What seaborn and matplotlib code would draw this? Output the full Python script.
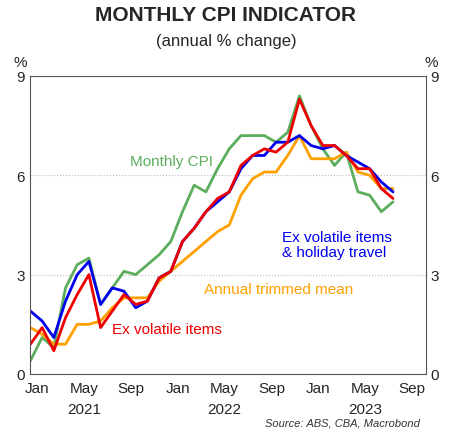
import numpy as np
import matplotlib.pyplot as plt
import seaborn as sns

# monthly, Jan 2021 - Aug 2023
months = np.arange(32)
monthly_cpi = [0.4, 1.1, 0.8, 2.6, 3.3, 3.5, 2.1, 2.6, 3.1, 3.0, 3.3, 3.6, 4.0, 4.9, 5.7, 5.5,
               6.2, 6.8, 7.2, 7.2, 7.2, 7.0, 7.3, 8.4, 7.5, 6.8, 6.3, 6.7, 5.5, 5.4, 4.9, 5.2]
ex_vol_holiday = [1.9, 1.6, 1.1, 2.2, 3.0, 3.4, 2.1, 2.6, 2.5, 2.0, 2.2, 2.9, 3.1, 4.0, 4.4, 4.9,
                  5.2, 5.5, 6.2, 6.6, 6.6, 7.0, 7.0, 7.2, 6.9, 6.8, 6.9, 6.6, 6.4, 6.2, 5.8, 5.5]
ex_volatile = [0.9, 1.4, 0.7, 1.7, 2.4, 3.0, 1.4, 1.9, 2.4, 2.1, 2.2, 2.9, 3.1, 4.0, 4.4, 4.9,
               5.3, 5.5, 6.3, 6.6, 6.8, 6.7, 7.0, 8.3, 7.5, 6.9, 6.9, 6.6, 6.2, 6.2, 5.6, 5.3]
trimmed_mean = [1.4, 1.2, 0.9, 0.9, 1.5, 1.5, 1.6, 2.0, 2.3, 2.3, 2.3, 2.8, 3.1, 3.4, 3.7, 4.0,
                4.3, 4.5, 5.4, 5.9, 6.1, 6.1, 6.6, 7.2, 6.5, 6.5, 6.5, 6.7, 6.1, 6.0, 5.6, 5.6]
month_labels = ["Jan", "May", "Sep"] * 3
year_labels = ["2021", "2022", "2023"]

sns.set_style("white")
plt.rcParams["font.family"] = ["Liberation Sans", "DejaVu Sans"]

fig = plt.figure(figsize=(4.52, 4.35), dpi=100)
ax = fig.add_axes([0.066, 0.138, 0.876, 0.685])

sns.lineplot(x=months, y=monthly_cpi, color="#5cad5c", lw=2, ax=ax)
sns.lineplot(x=months, y=trimmed_mean, color="#ffa000", lw=2, ax=ax)
sns.lineplot(x=months, y=ex_vol_holiday, color="#0000ee", lw=2, ax=ax)
sns.lineplot(x=months, y=ex_volatile, color="#ee0000", lw=2, ax=ax)

ax.set_xlim(-0.05, 33.8)
ax.set_ylim(0, 9)
ax.set_yticks([0, 3, 6, 9])
ax.yaxis.grid(True, ls=":", color="#bbbbbb", lw=0.8)
ax.tick_params(axis="y", labelsize=11, length=0, labelright=True, right=True)
ax.set_xticks(np.arange(3.5, 33, 4))
ax.set_xticklabels([])
ax.tick_params(axis="x", length=4, direction="in", color="#555555")
for i, lab in enumerate(month_labels):
    ax.text(0.6 + 4 * i, -0.2, lab, ha="center", va="top", fontsize=11)
for i, lab in enumerate(year_labels):
    ax.text(4.6 + 12 * i, -0.85, lab, ha="center", va="top", fontsize=11)
for s in ax.spines.values():
    s.set_color("#555555")
ax.set_xlabel("")
ax.set_ylabel("")

ax.text(8.5, 6.3, "Monthly CPI", color="#5cad5c", fontsize=11)
ax.text(21.5, 3.55, "Ex volatile items\n& holiday travel", color="#0000ee", fontsize=11,
        linespacing=1.1)
ax.text(14.8, 2.45, "Annual trimmed mean", color="#ffa000", fontsize=11)
ax.text(7.0, 1.25, "Ex volatile items", color="#ee0000", fontsize=11)

fig.text(0.5, 0.965, "MONTHLY CPI INDICATOR", ha="center", va="center",
         fontsize=15, fontweight="bold")
fig.text(0.5, 0.905, "(annual % change)", ha="center", va="center", fontsize=12)
fig.text(0.045, 0.845, "%", ha="center", fontsize=11)
fig.text(0.955, 0.845, "%", ha="center", fontsize=11)
fig.text(0.93, 0.02, "Source: ABS, CBA, Macrobond", ha="right", fontsize=8,
         style="italic", color="#333333")

fig.savefig("out.png", dpi=100)
